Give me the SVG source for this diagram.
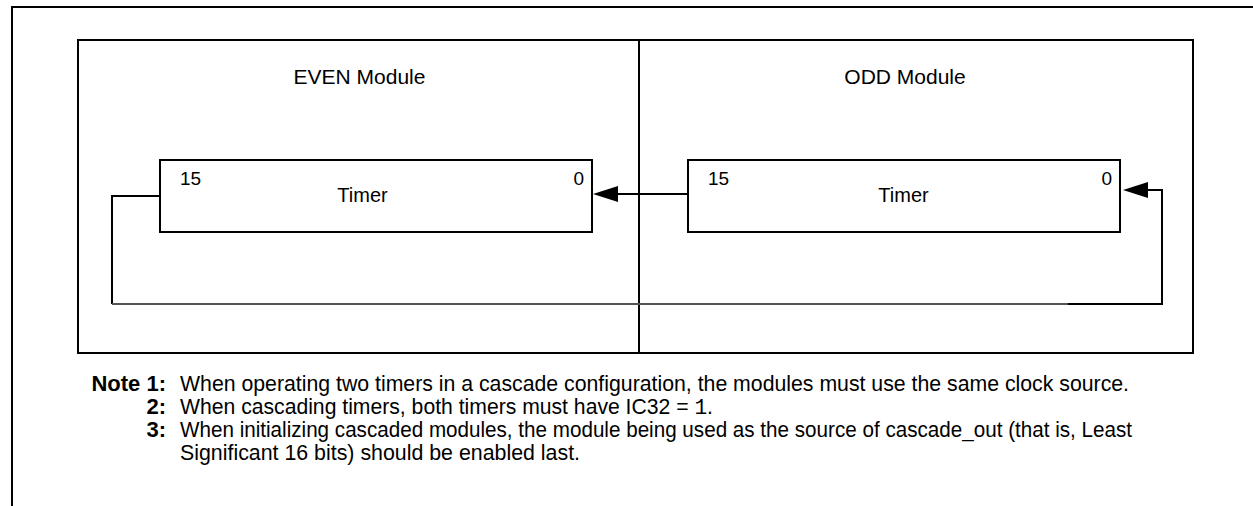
<svg xmlns="http://www.w3.org/2000/svg" width="1253" height="506" viewBox="0 0 1253 506">
<defs>
<style>
.frame{fill:none;stroke:#000;stroke-width:2}
.box{fill:#fff;stroke:#000;stroke-width:2}
.wire{fill:none;stroke:#000;stroke-width:2}
.lbl{font-family:"Liberation Sans",Arial,sans-serif;fill:#000}
.note{font-family:"Liberation Sans Narrow","Liberation Sans",Arial,sans-serif;font-size:22px;fill:#000}
.nb{font-weight:bold}
.mono{font-family:"Liberation Mono","Courier New",monospace}
</style>
<marker id="arr" viewBox="0 0 25 16" refX="20" refY="8" markerWidth="25" markerHeight="16" markerUnits="userSpaceOnUse" orient="auto">
<path d="M0,0 L25,8 L0,16 Z" fill="#000"/>
</marker>
</defs>
<rect width="1253" height="506" fill="#fff"/>
<g id="outer-frame">
<path class="frame" d="M12,506 V7 H1253"/>
</g>
<g id="module-frame">
<rect class="frame" x="78" y="40" width="1115" height="313" fill="#fdfdfd"/>
<line class="frame" x1="639" y1="40" x2="639" y2="353"/>
</g>
<g id="even-module">
<text class="lbl" x="359.5" y="84" font-size="21" text-anchor="middle">EVEN Module</text>
</g>
<g id="odd-module">
<text class="lbl" x="905" y="84" font-size="21" text-anchor="middle">ODD Module</text>
</g>
<g id="even-timer">
<rect class="box" x="160" y="160" width="432" height="72"/>
<text class="lbl" x="180" y="185" font-size="19">15</text>
<text class="lbl" x="584" y="185" font-size="19" text-anchor="end">0</text>
<text class="lbl" x="362.5" y="202" font-size="20" text-anchor="middle">Timer</text>
</g>
<g id="odd-timer">
<rect class="box" x="688" y="160" width="432" height="72"/>
<text class="lbl" x="708" y="185" font-size="19">15</text>
<text class="lbl" x="1112" y="185" font-size="19" text-anchor="end">0</text>
<text class="lbl" x="903.5" y="202" font-size="20" text-anchor="middle">Timer</text>
</g>
<g id="connectors">
<path class="wire" d="M688,194 H598" marker-end="url(#arr)"/>
<path class="wire" d="M160,196 H112 V304"/>
<path d="M112,304 H1068" fill="none" stroke="#555" stroke-width="2"/>
<path class="wire" d="M1068,304 H1162 V190 H1128" marker-end="url(#arr)"/>
</g>
<g id="notes">
<text class="note nb" x="166" y="391" text-anchor="end">Note 1:</text>
<text class="note" x="180" y="391" textLength="949" lengthAdjust="spacingAndGlyphs">When operating two timers in a cascade configuration, the modules must use the same clock source.</text>
<text class="note nb" x="166" y="414" text-anchor="end">2:</text>
<text class="note" x="180" y="414" textLength="533" lengthAdjust="spacingAndGlyphs">When cascading timers, both timers must have IC32 = <tspan class="mono">1</tspan>.</text>
<text class="note nb" x="166" y="437" text-anchor="end">3:</text>
<text class="note" x="180" y="437" textLength="952" lengthAdjust="spacingAndGlyphs">When initializing cascaded modules, the module being used as the source of cascade_out (that is, Least</text>
<text class="note" x="180" y="460" textLength="400" lengthAdjust="spacingAndGlyphs">Significant 16 bits) should be enabled last.</text>
</g>
</svg>
